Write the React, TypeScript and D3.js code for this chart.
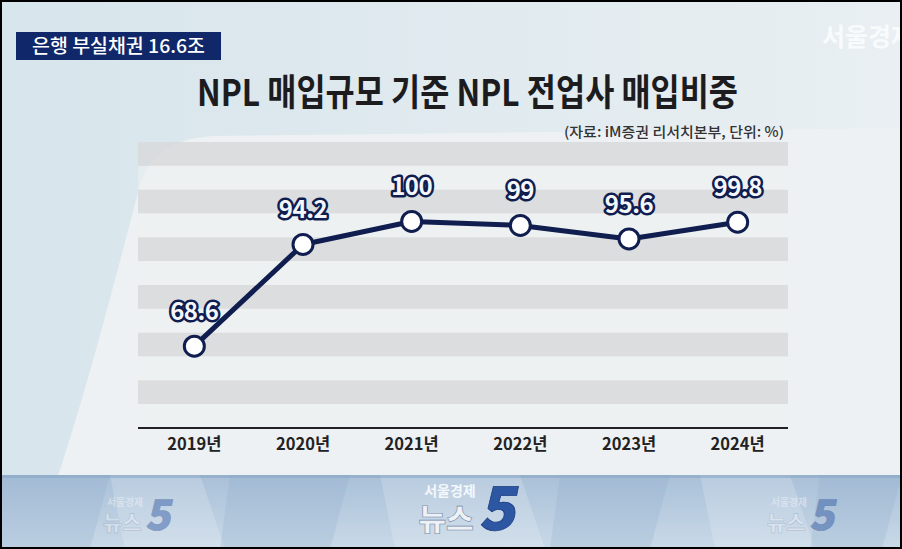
import React, { useEffect, useRef } from 'react';
import * as d3 from 'd3';

const years = ['2019년', '2020년', '2021년', '2022년', '2023년', '2024년'];
const shares = [68.6, 94.2, 100, 99, 95.6, 99.8];
const shareLabels = ['68.6', '94.2', '100', '99', '95.6', '99.8'];
// band edges of the striped background, in %
const bandEdges = [120, 114, 108, 102, 96, 90, 84, 78, 72, 66, 60, 54, 48];

const W = 902;
const H = 549;
const FONT = '"Noto Sans CJK KR", "Noto Sans", sans-serif';
const NAVY = '#101d4f';

const App: React.FC = () => {
  const svgRef = useRef<SVGSVGElement>(null);

  useEffect(() => {
    if (!svgRef.current) return;
    const svg = d3.select(svgRef.current);
    svg.selectAll('*').remove();
    svg.attr('width', W).attr('height', H);

    const defs = svg.append('defs');
    const bg = defs.append('linearGradient').attr('id', 'bg').attr('x1', 0).attr('x2', 1).attr('y1', 0).attr('y2', 0);
    bg.append('stop').attr('offset', '0%').attr('stop-color', '#d7e5ec');
    bg.append('stop').attr('offset', '100%').attr('stop-color', '#e9eff2');
    const ban = defs.append('linearGradient').attr('id', 'ban').attr('x1', 0).attr('x2', 0).attr('y1', 0).attr('y2', 1);
    ban.append('stop').attr('offset', '0%').attr('stop-color', '#a9c0d8');
    ban.append('stop').attr('offset', '100%').attr('stop-color', '#c9d9e8');

    // page background
    svg.append('rect').attr('width', W).attr('height', H).attr('fill', 'url(#bg)');
    // lighter sweeping shape behind the chart
    svg.append('path')
      .attr('d', 'M58,476 C90,380 120,260 140,185 Q155,138 215,136 L902,128 L902,476 Z')
      .attr('fill', '#eef1f3');

    const x = d3.scalePoint<string>().domain(years).range([140, 792]).padding(0.5);
    const y = d3.scaleLinear().domain([48, 120]).range([428, 142]);
    const left = 138;
    const right = 788;

    // stripes
    const bands = d3.pairs(bandEdges);
    svg.append('g').selectAll('rect')
      .data(bands)
      .enter().append('rect')
      .attr('x', left)
      .attr('width', right - left)
      .attr('y', (d) => y(d[0]))
      .attr('height', (d) => y(d[1]) - y(d[0]))
      .attr('fill', (_d, i) => (i % 2 === 0 ? '#d8d9da' : '#eff1f2'))
      .attr('fill-opacity', (_d, i) => (i % 2 === 0 ? 0.85 : 0.6));

    // axis line
    svg.append('line')
      .attr('x1', left).attr('x2', right)
      .attr('y1', y(48)).attr('y2', y(48))
      .attr('stroke', '#222').attr('stroke-width', 2);

    // x labels
    svg.append('g').selectAll('text')
      .data(years)
      .enter().append('text')
      .attr('x', (d) => x(d) || 0)
      .attr('y', 450)
      .attr('text-anchor', 'middle')
      .attr('font-family', FONT)
      .attr('font-weight', 700)
      .attr('font-size', 16.5)
      .attr('fill', '#222')
      .text((d) => d);

    // line
    const pts = years.map((yr, i) => ({ yr, v: shares[i], label: shareLabels[i] }));
    const line = d3.line<{ yr: string; v: number }>()
      .x((d) => x(d.yr) || 0)
      .y((d) => y(d.v));
    svg.append('path')
      .datum(pts)
      .attr('d', line)
      .attr('fill', 'none')
      .attr('stroke', NAVY)
      .attr('stroke-width', 5)
      .attr('stroke-linejoin', 'round');

    svg.append('g').selectAll('circle')
      .data(pts)
      .enter().append('circle')
      .attr('cx', (d) => x(d.yr) || 0)
      .attr('cy', (d) => y(d.v))
      .attr('r', 10)
      .attr('fill', '#fff')
      .attr('stroke', NAVY)
      .attr('stroke-width', 3);

    svg.append('g').selectAll('text')
      .data(pts)
      .enter().append('text')
      .attr('x', (d) => x(d.yr) || 0)
      .attr('y', (d) => y(d.v) - 26)
      .attr('text-anchor', 'middle')
      .attr('font-family', FONT)
      .attr('font-weight', 700)
      .attr('font-size', 24)
      .attr('fill', '#f5f7fb')
      .attr('stroke', NAVY)
      .attr('stroke-width', 5)
      .attr('stroke-linejoin', 'round')
      .attr('paint-order', 'stroke')
      .attr('letter-spacing', -0.5)
      .text((d) => d.label);

    // top tag
    svg.append('rect').attr('x', 16).attr('y', 32).attr('width', 205).attr('height', 28).attr('fill', '#10286a');
    svg.append('text')
      .attr('x', 32).attr('y', 53)
      .attr('font-family', FONT).attr('font-weight', 500).attr('font-size', 19)
      .attr('fill', '#fff')
      .attr('textLength', 173).attr('lengthAdjust', 'spacingAndGlyphs')
      .text('은행 부실채권 16.6조');

    // title
    svg.append('text')
      .attr('x', 197).attr('y', 106)
      .attr('font-family', FONT).attr('font-weight', 700).attr('font-size', 37)
      .attr('fill', '#1c1c1e')
      .attr('textLength', 541).attr('lengthAdjust', 'spacingAndGlyphs')
      .text('NPL 매입규모 기준 NPL 전업사 매입비중');

    // source
    svg.append('text')
      .attr('x', 564).attr('y', 137)
      .attr('font-family', FONT).attr('font-weight', 500).attr('font-size', 14)
      .attr('fill', '#333')
      .attr('textLength', 220).attr('lengthAdjust', 'spacingAndGlyphs')
      .text('(자료: iM증권 리서치본부, 단위: %)');

    // watermark (the reference shows it cut at the right edge)
    svg.append('text')
      .attr('x', 822).attr('y', 46)
      .attr('font-family', FONT).attr('font-weight', 700).attr('font-size', 25)
      .attr('fill', '#fff').attr('fill-opacity', 0.75)
      .text('서울경제');

    // bottom banner
    const b = svg.append('g');
    b.append('rect').attr('x', 0).attr('y', 475).attr('width', W).attr('height', H - 475).attr('fill', 'url(#ban)');
    const panels = [
      [0, 110], [110, 90], [230, 120], [380, 140], [560, 110], [700, 90], [820, 82],
    ];
    b.selectAll('path.panel')
      .data(panels)
      .enter().append('path')
      .attr('class', 'panel')
      .attr('d', (d, i) => `M${d[0]},475 L${d[0] + d[1]},475 L${d[0] + d[1] + (i % 2 ? 25 : -20)},549 L${d[0] + (i % 2 ? 15 : -10)},549 Z`)
      .attr('fill', (_d, i) => (i % 2 ? '#ffffff' : '#7f9fc2'))
      .attr('fill-opacity', 0.18);
    b.append('rect').attr('x', 0).attr('y', 475).attr('width', W).attr('height', 3).attr('fill', '#8aa6c4').attr('fill-opacity', 0.6);

    const logo = (cx: number, s: number, op: number) => {
      const g = b.append('g').attr('transform', `translate(${cx},${530 * (1 - s)}) scale(${s})`).attr('opacity', op);
      g.append('text')
        .attr('x', -10).attr('y', 496)
        .attr('text-anchor', 'middle')
        .attr('font-family', FONT).attr('font-weight', 700).attr('font-size', 14)
        .attr('fill', '#f4f7fb')
        .text('서울경제');
      g.append('text')
        .attr('x', -14).attr('y', 530)
        .attr('text-anchor', 'middle')
        .attr('font-family', FONT).attr('font-weight', 900).attr('font-size', 30)
        .attr('fill', '#eef2f7')
        .attr('stroke', '#6f86a3').attr('stroke-width', 0.6)
        .text('뉴스');
      g.append('text')
        .attr('x', 34 + 530 * 0.2).attr('y', 530)
        .attr('text-anchor', 'middle')
        .attr('font-family', FONT).attr('font-weight', 900)
        .attr('font-size', 60)
        .attr('fill', '#2d56a3')
        .attr('stroke', '#1d3d80').attr('stroke-width', 0.8)
        .attr('transform', 'skewX(-11)')
        .text('5');
    };
    logo(460, 1, 1);
    logo(132, 0.7, 0.45);
    logo(796, 0.7, 0.45);

    // frame
    svg.append('rect').attr('x', 1).attr('y', 1).attr('width', W - 2).attr('height', H - 2)
      .attr('fill', 'none').attr('stroke', '#000').attr('stroke-width', 2);
  }, []);

  return (
    <div style={{ position: 'fixed', left: 0, top: 0 }}>
      <svg ref={svgRef} style={{ display: 'block' }}></svg>
    </div>
  );
};

export default App;
